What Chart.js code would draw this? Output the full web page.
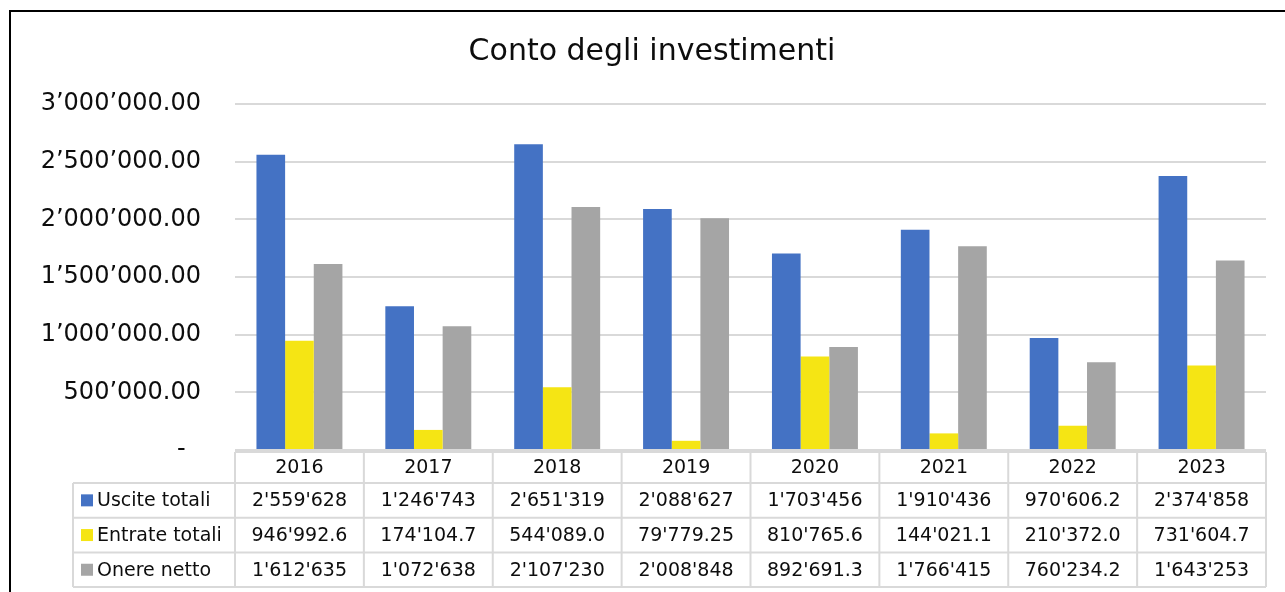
<!DOCTYPE html>
<html>
<head>
<meta charset="utf-8">
<script src="https://cdn.jsdelivr.net/npm/chart.js@4.4.1/dist/chart.umd.min.js"></script>
<style>
  html, body { margin: 0; padding: 0; background: #ffffff; }
  #wrap { position: relative; width: 1285px; height: 592px; overflow: hidden; }
</style>
</head>
<body>
<div id="wrap"><canvas id="c" width="1285" height="592"></canvas></div>
<script>
const chartTitle = 'Conto degli investimenti';
const categories = ['2016', '2017', '2018', '2019', '2020', '2021', '2022', '2023'];
const seriesNames = ['Uscite totali', 'Entrate totali', 'Onere netto'];
const usciteTotali = [2559628, 1246743, 2651319, 2088627, 1703456, 1910436, 970606.2, 2374858];
const entrateTotali = [946992.6, 174104.7, 544089.0, 79779.25, 810765.6, 144021.1, 210372.0, 731604.7];
const onereNetto = [1612635, 1072638, 2107230, 2008848, 892691.3, 1766415, 760234.2, 1643253];
const seriesColors = ['#4472C4', '#F5E514', '#A5A5A5'];
const yMin = 0, yMax = 3000000, yStep = 500000;

const FONT = '"DejaVu Sans", sans-serif';

function groupDigits(intStr, sep) {
  return intStr.replace(/\B(?=(\d{3})+(?!\d))/g, sep);
}
function tickFmt(v) {
  if (v === 0) return '-  ';
  const parts = v.toFixed(2).split('.');
  return groupDigits(parts[0], '\u2019') + '.' + parts[1];
}
function cellFmt(v) {
  const s = Number(v).toPrecision(7);
  const parts = s.split('.');
  return groupDigits(parts[0], "'") + (parts[1] !== undefined ? '.' + parts[1] : '');
}

const allSeries = [usciteTotali, entrateTotali, onereNetto];

const framePlugin = {
  id: 'frame',
  afterDraw(chart) {
    const ctx = chart.ctx;
    ctx.save();
    ctx.strokeStyle = '#000000';
    ctx.lineWidth = 2;
    ctx.strokeRect(10, 11, chart.width + 20, chart.height + 20);
    ctx.restore();
  }
};

const tablePlugin = {
  id: 'dataTable',
  afterDraw(chart) {
    const ctx = chart.ctx;
    const area = chart.chartArea;
    const xs = chart.scales.x;
    const n = categories.length;
    const colW = (area.right - area.left) / n;
    const top = area.bottom + 2;
    const headH = 31;
    const rowH = 34.7;
    const legendLeft = 73;
    ctx.save();
    ctx.strokeStyle = '#D9D9D9';
    ctx.lineWidth = 2;
    ctx.beginPath();
    ctx.moveTo(area.left, top); ctx.lineTo(area.right, top);
    for (let r = 0; r <= seriesNames.length; r++) {
      const y = top + headH + r * rowH;
      ctx.moveTo(legendLeft, y); ctx.lineTo(area.right, y);
    }
    const bottom = top + headH + seriesNames.length * rowH;
    for (let i = 0; i <= n; i++) {
      const x = area.left + i * colW;
      ctx.moveTo(x, top); ctx.lineTo(x, bottom);
    }
    ctx.moveTo(legendLeft, top + headH); ctx.lineTo(legendLeft, bottom);
    ctx.stroke();

    ctx.fillStyle = '#0D0D0D';
    ctx.font = '19px ' + FONT;
    ctx.textAlign = 'center';
    ctx.textBaseline = 'middle';
    for (let i = 0; i < n; i++) {
      const cx = xs.getPixelForValue(i);
      ctx.fillText(categories[i], cx, top + headH / 2 + 1);
      for (let r = 0; r < seriesNames.length; r++) {
        const cy = top + headH + r * rowH + rowH / 2 + 1;
        ctx.fillText(cellFmt(allSeries[r][i]), cx, cy);
      }
    }
    ctx.textAlign = 'left';
    for (let r = 0; r < seriesNames.length; r++) {
      const cy = top + headH + r * rowH + rowH / 2;
      ctx.fillStyle = seriesColors[r];
      ctx.fillRect(81, cy - 6, 12, 12);
      ctx.fillStyle = '#0D0D0D';
      ctx.fillText(seriesNames[r], 97, cy + 1);
    }
    ctx.restore();
  }
};

new Chart(document.getElementById('c'), {
  type: 'bar',
  data: {
    labels: categories,
    datasets: seriesNames.map((name, i) => ({
      label: name,
      data: allSeries[i],
      backgroundColor: seriesColors[i],
      borderWidth: 0,
      categoryPercentage: 0.667,
      barPercentage: 1.0
    }))
  },
  options: {
    responsive: false,
    animation: false,
    devicePixelRatio: 1,
    layout: { padding: { top: 30, right: 19, bottom: 142, left: 38 } },
    plugins: {
      legend: { display: false },
      tooltip: { enabled: false },
      title: {
        display: true,
        text: chartTitle,
        color: '#0D0D0D',
        font: { family: FONT, size: 30, weight: 'normal' },
        padding: { top: 4, bottom: 34 }
      }
    },
    scales: {
      x: {
        display: false,
        grid: { display: false }
      },
      y: {
        min: yMin,
        max: yMax,
        afterFit(scale) { scale.width = 197; },
        border: { display: false },
        grid: { color: '#D9D9D9', lineWidth: 2, drawTicks: false },
        ticks: {
          stepSize: yStep,
          padding: 34,
          color: '#0D0D0D',
          font: { family: FONT, size: 24 },
          callback: (v) => tickFmt(v)
        }
      }
    }
  },
  plugins: [framePlugin, tablePlugin]
});
</script>
</body>
</html>
